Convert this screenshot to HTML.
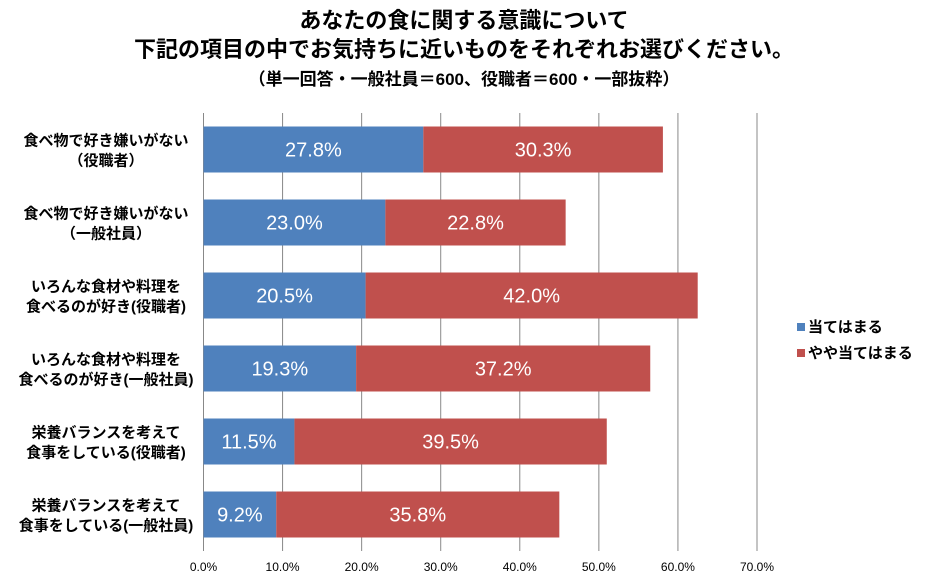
<!DOCTYPE html>
<html><head><meta charset="utf-8"><style>
body{margin:0;background:#fff;}
svg{display:block;font-family:"Liberation Sans","Noto Sans CJK JP",sans-serif;}
</style></head><body>
<svg id="c" width="928" height="583" viewBox="0 0 928 583">
<text x="464" y="28" text-anchor="middle" font-size="22" font-weight="bold">あなたの食に関する意識について</text>
<text x="464" y="57" text-anchor="middle" font-size="22" font-weight="bold">下記の項目の中でお気持ちに近いものをそれぞれお選びください。</text>
<text x="464" y="85" text-anchor="middle" font-size="17" font-weight="bold">（単一回答・一般社員＝600、役職者＝600・一部抜粋）</text>
<g id="grid"></g><g id="bars"></g><g id="labels"></g><g id="ticks"></g>
<g>
<rect x="797" y="323" width="8" height="8" fill="#4f81bd"/>
<text x="808" y="332" font-size="15" font-weight="bold">当てはまる</text>
<rect x="797" y="349" width="8" height="8" fill="#c0504d"/>
<text x="808" y="358" font-size="15" font-weight="bold">やや当てはまる</text>
</g>
</svg>
<script>
const categories=[["食べ物で好き嫌いがない","（役職者）"],["食べ物で好き嫌いがない","（一般社員）"],["いろんな食材や料理を","食べるのが好き(役職者)"],["いろんな食材や料理を","食べるのが好き(一般社員)"],["栄養バランスを考えて","食事をしている(役職者)"],["栄養バランスを考えて","食事をしている(一般社員)"]];
const agree=[27.8,23.0,20.5,19.3,11.5,9.2];
const somewhat=[30.3,22.8,42.0,37.2,39.5,35.8];
const ticks=[0,10,20,30,40,50,60,70];
const NS="http://www.w3.org/2000/svg";
const x0=203.5,x1=757,plotTop=113,rowH=73,barH=46;
const xs=v=>x0+(x1-x0)*v/70;
const ys=i=>plotTop+i*rowH+(rowH-barH)/2;
function mk(t,a,p){const e=document.createElementNS(NS,t);for(const k in a)e.setAttribute(k,a[k]);p.appendChild(e);return e;}
const G=document.getElementById('grid'),B=document.getElementById('bars'),L=document.getElementById('labels'),T=document.getElementById('ticks');
ticks.forEach(t=>{
 const l=mk('line',{x1:xs(t),x2:xs(t),y1:plotTop,y2:plotTop+rowH*6,stroke:'#888','stroke-width':1},G);
 
 
 const tx=mk('text',{x:xs(t),y:571,'text-anchor':'middle','font-size':12},T);tx.textContent=t.toFixed(1)+'%';
 
 
});
categories.forEach((c,i)=>{
 const y=ys(i);
 const r1=mk('rect',{x:xs(0),y:y,width:xs(agree[i])-xs(0),height:barH,fill:'#4f81bd'},B);
 
 
 const r2=mk('rect',{x:xs(agree[i]),y:y,width:xs(agree[i]+somewhat[i])-xs(agree[i]),height:barH,fill:'#c0504d'},B);
 
 
 const v1=mk('text',{x:(xs(0)+xs(agree[i]))/2,y:y+barH/2+7,'text-anchor':'middle','font-size':20,fill:'#fff'},B);v1.textContent=agree[i].toFixed(1)+'%';
 
 
 const v2=mk('text',{x:(xs(agree[i])+xs(agree[i]+somewhat[i]))/2,y:y+barH/2+7,'text-anchor':'middle','font-size':20,fill:'#fff'},B);v2.textContent=somewhat[i].toFixed(1)+'%';
 
 
 const cy=plotTop+i*rowH+rowH/2;
 const a=mk('text',{x:106,y:cy-4,'text-anchor':'middle','font-size':15,'font-weight':'bold'},L);a.textContent=c[0];
 
 
 const b=mk('text',{x:106,y:cy+16,'text-anchor':'middle','font-size':15,'font-weight':'bold'},L);b.textContent=c[1];
 
 
});
</script>
</body></html>
